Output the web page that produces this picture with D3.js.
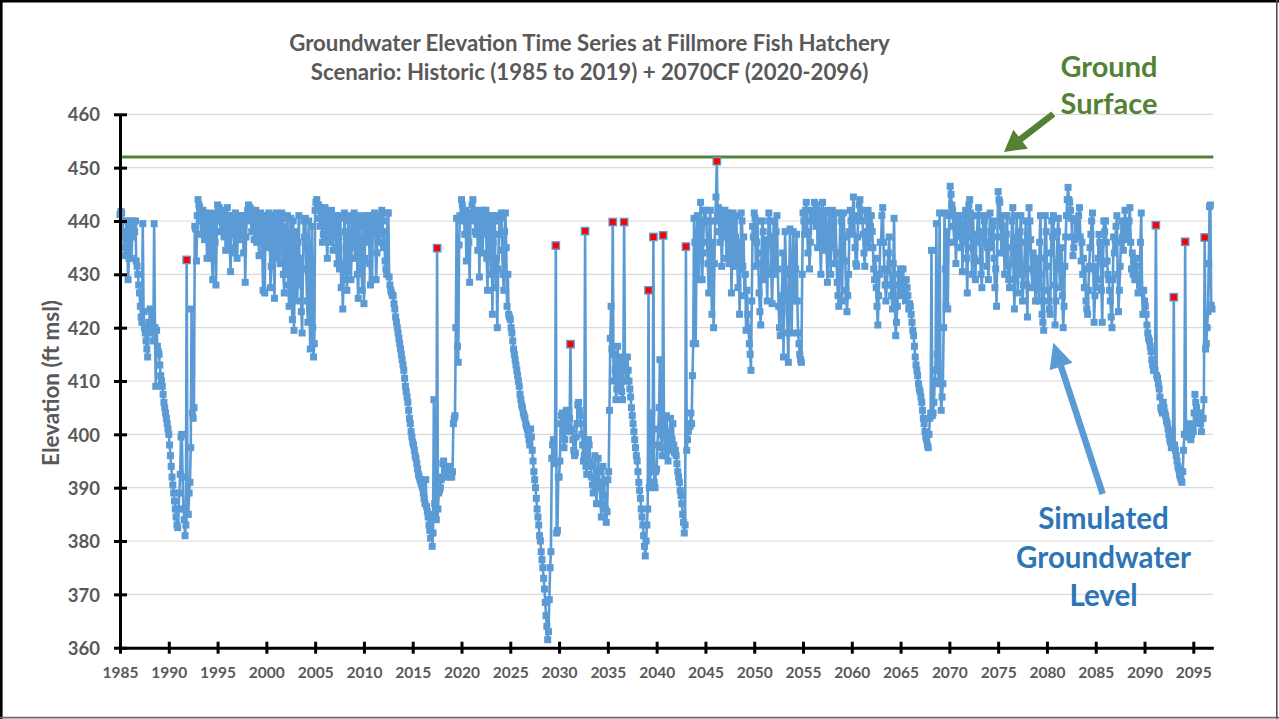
<!DOCTYPE html>
<html><head><meta charset="utf-8">
<script src="https://cdn.jsdelivr.net/npm/d3@7"></script>
<style>html,body{margin:0;padding:0;background:#fff;} svg{display:block;}</style>
</head><body><svg id="c" width="1279" height="719"></svg>
<script>
// ---------------- DATA ----------------
const startYear = 1985;
const samplesPerYear = 12; // monthly values
const levels = [
  [441.2, 441.8, 441.5, 440, 437, 435, 433.5, 438, 440, 436, 429, 433],              // 1985
  [440, 439.5, 433, 437, 440, 439.5, 438, 440, 432.5, 431.5, 430, 428],              // 1986
  [426.5, 424, 422, 421, 439.5, 423, 420, 419, 417.5, 416, 414.5, 420],              // 1987
  [421, 423.5, 423, 420.5, 419, 417.5, 439.5, 420, 409, 419.5, 416.5, 415.5],        // 1988
  [415, 413, 411, 410, 409, 407.5, 406, 405, 404, 403, 402, 401],                    // 1989
  [400, 398, 396, 394, 392, 390.5, 389, 387.5, 386, 384.5, 383, 382.5],              // 1990
  [386, 389, 392.5, 399.5, 400, 392, 386, 384, 381, 383, 432.7, 385],                // 1991
  [385, 389, 391, 397.5, 423.5, 404, 403, 405, 439, 438.5, 432.5, 441],              // 1992
  [444, 443, 442.5, 440, 437.5, 441.5, 442, 439, 436.5, 440.5, 441, 433],            // 1993
  [441.5, 437, 433.5, 440.5, 441, 433, 429, 441, 441.5, 436, 428, 438],              // 1994
  [443, 442, 442.5, 440, 438, 442, 441.5, 439, 437, 441, 434.5, 440],                // 1995
  [442.5, 436, 441, 435, 430.5, 439.5, 440, 441, 437.5, 434, 441.5, 440],            // 1996
  [433, 438, 440, 441, 436.5, 440.5, 441, 438.5, 434, 441, 428.5, 437],              // 1997
  [441, 442, 443, 441, 442.5, 440, 438, 442, 441.5, 436.5, 440.5, 442],              // 1998
  [436, 441, 440, 433.5, 437.5, 441.5, 441, 434, 427, 440.5, 426.5, 441],            // 1999
  [441, 438, 435, 441.5, 441, 427.5, 431.5, 441, 440.5, 433, 425.5, 440],            // 2000
  [441.5, 437, 433, 441, 441, 432, 437.5, 441.5, 440.5, 430, 426.5, 439],            // 2001
  [430, 440.5, 441, 428, 424, 436, 440.5, 426, 421.5, 440, 419.5, 432],              // 2002
  [438, 430, 425, 436, 441, 428, 433, 423, 419, 431, 440, 437],                      // 2003
  [440.5, 431, 425, 421, 440, 424, 416, 433, 439, 420, 414.5, 417],                  // 2004
  [442, 443.5, 444, 443, 443, 440.5, 439, 442.5, 441.5, 436, 437.5, 442],            // 2005
  [442.5, 440, 436.5, 433, 441.5, 440.5, 439, 436, 442, 441, 434.5, 440],            // 2006
  [440, 441, 435, 432, 441, 437, 431, 440.5, 427.5, 432, 423.5, 429],                // 2007
  [441.5, 438, 435, 427, 430.5, 440, 441, 433, 429, 436, 440.5, 441],                // 2008
  [441.5, 433, 435, 440.5, 430, 425.5, 441, 439, 436, 431, 427, 440],                // 2009
  [424.5, 433, 441, 440, 436, 441, 441, 432, 428, 440.5, 429, 441],                  // 2010
  [441, 441.5, 437.5, 429, 434, 440, 440.5, 436, 437.5, 441, 442, 440],              // 2011
  [435, 438, 432.5, 431, 430, 441.5, 441.5, 429.5, 428, 427, 426.5, 426],            // 2012
  [426, 424.5, 423.5, 422, 421, 420, 419, 418, 417, 416, 415, 414],                  // 2013
  [413, 412, 410.5, 409, 408, 407, 406, 404.5, 403, 402, 400.5, 399.5],              // 2014
  [398.5, 398, 397, 396, 395.5, 394.5, 393.5, 392.5, 392, 391.5, 391, 390.5],        // 2015
  [390, 389, 388, 387, 391.5, 386.5, 385.5, 384.5, 383, 382, 380.5, 385],            // 2016
  [379, 381.5, 406.5, 387, 385, 384, 434.9, 386, 389, 389.5, 390, 391.5],            // 2017
  [392, 394.5, 395, 394, 393.5, 392, 392.5, 393, 394, 393, 392, 392.5],              // 2018
  [392, 393, 402, 403, 403.5, 420, 440.5, 416.5, 413.5, 435.5, 441, 440],            // 2019
  [444, 443, 442, 441, 437.5, 442, 432.5, 441.5, 441, 436, 428.5, 440],              // 2020
  [441.5, 443, 444, 441, 442, 438, 437.5, 441.5, 434.5, 440.5, 429.5, 441],          // 2021
  [442, 438, 434, 441, 437.5, 442, 442, 433, 427, 440, 436.5, 441],                  // 2022
  [430, 441, 422.5, 436, 441, 440, 427.5, 433, 420, 431, 437.5, 441],                // 2023
  [440.5, 441.5, 434.5, 430, 427, 438, 441.5, 435, 424, 430, 422.5, 422],            // 2024
  [421.5, 420, 419, 417.5, 416, 415, 414, 413, 412, 411, 410, 409],                  // 2025
  [407.5, 406.5, 405.5, 405, 404, 403.5, 403, 402, 401.5, 401, 400, 399],            // 2026
  [398, 401, 399.5, 397, 395, 393, 391.5, 390, 388, 386, 384.5, 383],                // 2027
  [381, 380, 378, 376.5, 375, 373, 371, 368.5, 366, 364, 361.5, 363],                // 2028
  [369, 375, 378, 395.5, 398, 399, 395, 394.5, 435.4, 381.5, 382, 392],              // 2029
  [392, 395, 402, 403.5, 404, 400.5, 397.5, 399, 402.5, 404.5, 400.5, 401.5],        // 2030
  [404.5, 403, 416.9, 400.5, 401, 399, 397, 396, 396.5, 399.5, 402, 405.5],          // 2031
  [406, 404.5, 403.5, 402, 400, 398, 395, 396, 438.1, 394, 392.5, 397],              // 2032
  [399, 398, 395, 394, 392, 390.5, 389, 392, 396, 390, 387, 390],                    // 2033
  [395.5, 393, 391, 387, 384.5, 390, 394, 391, 388.5, 386, 383.5, 385.5],            // 2034
  [391.5, 393, 404.5, 418, 424, 416, 439.8, 410, 415, 412, 406.5, 408.5],            // 2035
  [416.5, 411, 409, 414.5, 413, 408, 406.5, 410, 439.8, 414, 412, 410],              // 2036
  [414.5, 412, 410, 408.5, 407, 405, 403.5, 402, 400.5, 399, 397.5, 396],            // 2037
  [395, 393, 391, 389.5, 388, 386, 384.5, 383, 381, 379, 377.2, 380],                // 2038
  [383, 386, 427, 390, 391, 394, 404, 393, 437, 391, 390, 393],                      // 2039
  [393.5, 398, 401, 405, 414, 400, 397.5, 396, 437.3, 401, 400.5, 396],              // 2040
  [403.5, 400, 395, 397.5, 400.5, 403, 397, 399, 402, 398, 396.5, 397],              // 2041
  [396, 394.5, 393, 392, 391, 389.5, 388.5, 387, 385, 383.5, 381.5, 383],            // 2042
  [435.2, 397, 399, 400.5, 402, 401.5, 404, 402, 411, 417, 440.5, 436],              // 2043
  [417, 433, 441, 434, 429, 437, 443.5, 440, 429, 434, 440, 442],                    // 2044
  [442, 440, 436, 432, 426.5, 440, 442, 430, 422.5, 436, 420, 432],                  // 2045
  [440, 444.5, 451.2, 441, 442.5, 438, 436, 441.5, 431.5, 437, 441, 442],            // 2046
  [442, 438, 433, 440, 441.5, 432, 436.5, 441, 426.5, 434, 441.5, 440],              // 2047
  [431.5, 437, 441, 433, 427.5, 436, 422.5, 431, 441.5, 440, 431.5, 437],            // 2048
  [426, 430, 419.5, 427, 422.5, 420, 417, 415, 412, 425, 439, 437],                  // 2049
  [441.5, 440.5, 431.5, 436, 440, 432, 426.5, 423, 420.5, 434, 440, 438],            // 2050
  [429, 433, 436.5, 431, 425, 436, 441.5, 440, 437, 430, 424.5, 432],                // 2051
  [440, 436, 430, 438, 441, 431, 424, 420, 418.5, 426, 423, 434],                    // 2052
  [414.5, 427, 438, 431, 425, 419, 413.5, 430, 438.5, 426, 419, 428],                // 2053
  [438, 432, 425, 431, 437.5, 425, 419, 417, 415, 414, 413.5, 430],                  // 2054
  [441.5, 440, 437.5, 442, 443.5, 440, 434, 438, 431, 436, 442, 441],                // 2055
  [440, 442, 443.5, 441, 439, 443, 435, 440, 442, 436, 430, 438],                    // 2056
  [443.5, 441, 434.5, 439, 442, 435, 428.5, 437, 441.5, 436, 430, 441],              // 2057
  [442, 440, 435, 432, 441.5, 434, 428.5, 426, 424, 434, 441.5, 440],                // 2058
  [425, 436, 441.5, 437, 432.5, 427, 423, 426, 430, 438, 442, 440],                  // 2059
  [437.5, 441, 444.5, 440, 435, 432, 431.5, 437, 441, 443, 444, 442],                // 2060
  [442, 440, 437.5, 434, 431.5, 438, 436, 441, 442, 438, 435, 439],                  // 2061
  [441, 438, 435, 431, 429, 433, 427.5, 424, 420.5, 426, 430, 436],                  // 2062
  [436, 441, 442.5, 436, 431, 428, 425, 428, 430.5, 434, 437, 432],                  // 2063
  [428, 426, 423.5, 432, 440.5, 425, 418.5, 421, 424, 430, 428, 426],                // 2064
  [431, 429, 427, 431, 428.5, 426, 425, 429, 427.5, 426, 423.5, 424.5],              // 2065
  [424, 422.5, 421, 419.5, 418.5, 416.5, 414.5, 413, 412, 411, 409.5, 408.5],        // 2066
  [408, 407, 406, 404.5, 403, 402, 400.5, 399.5, 399, 398, 397.5, 400],              // 2067
  [403, 404, 434.5, 403.5, 404, 406, 410, 412, 439.5, 415, 413, 409.5],              // 2068
  [441.5, 410, 404.5, 407, 409.5, 420, 441.5, 431, 424, 438, 423.5, 436],            // 2069
  [441, 446.5, 445, 443, 442, 439, 436, 441, 432, 437, 441, 440],                    // 2070
  [440.5, 438, 435, 441, 430.5, 436, 439, 441, 442, 433, 426.5, 437],                // 2071
  [443, 444, 441.5, 435, 430, 441, 437, 433, 429, 436, 437.5, 441],                  // 2072
  [442.5, 438, 432.5, 430, 427.5, 437, 441, 440, 436, 441, 431.5, 435],              // 2073
  [429, 436, 441.5, 438, 435, 439, 440, 433, 427.5, 431, 424, 437],                  // 2074
  [445.5, 444, 443.5, 440, 434, 439, 441, 436, 430, 434, 437.5, 441],                // 2075
  [431.5, 429, 427.5, 432, 435, 440, 442.5, 429, 423.5, 433, 437, 441],              // 2076
  [426.5, 430, 432.5, 438, 441, 431, 425, 428, 431, 436, 440, 428],                  // 2077
  [422, 435, 442.5, 440, 436.5, 431, 427.5, 434, 430.5, 428, 425, 433],              // 2078
  [431.5, 428, 425, 436, 441, 430, 422.5, 421, 419.5, 433, 441, 438],                // 2079
  [431.5, 427, 425, 423.5, 422.5, 434, 440, 437, 441, 428, 420.5, 425],              // 2080
  [432, 438, 440.5, 433, 427.5, 431, 435, 426, 420, 424, 431.5, 437],                // 2081
  [441, 444, 446.3, 444, 443.5, 442, 440.5, 437, 433.5, 435, 436.5, 440],            // 2082
  [440, 439, 437.5, 441, 442.5, 437, 432.5, 436, 430, 433, 427.5, 431],              // 2083
  [425, 423.5, 422.5, 427, 431.5, 435, 437.5, 440, 441.5, 431, 421, 426],            // 2084
  [431.5, 429, 427.5, 433, 437.5, 436, 435, 427, 421, 432, 440, 438],                // 2085
  [440, 436, 432.5, 430, 429, 427, 425, 422, 420, 429, 437, 434],                    // 2086
  [436.5, 439, 441, 430, 423, 427, 431.5, 436, 440, 437, 434.5, 439],                // 2087
  [442, 440, 436.5, 440, 437, 440, 442.5, 436, 431, 434, 430, 432],                  // 2088
  [429, 433, 431.5, 429, 426.5, 430, 428, 436, 441.5, 427, 422.5, 427],              // 2089
  [425, 424, 422.5, 420.5, 419, 418, 417.5, 416.5, 415.5, 414, 413, 412],            // 2090
  [413, 412, 439.2, 411, 410.5, 409.5, 408.5, 407, 405, 404.5, 404, 406],            // 2091
  [405, 404, 403.5, 402.5, 402, 401, 400, 399, 398.5, 397.5, 400.5, 398],            // 2092
  [425.7, 398, 397, 396, 395, 394, 393.5, 392.5, 392, 391.5, 391, 393],              // 2093
  [397, 400, 436.1, 400, 401, 400, 399.5, 402, 400.5, 399, 400, 401.5],              // 2094
  [400.5, 404, 407.5, 406, 405, 403, 402, 403.5, 404, 402, 400.5, 403],              // 2095
  [403, 406.5, 436.9, 416, 417, 420, 423, 432, 442.7, 443, 424.2, 423.5]             // 2096
];
// isolated (flagged) values drawn in red
const flaggedYears  = [1991.833, 2017.5, 2029.667, 2031.167, 2032.667, 2035.5, 2036.667, 2039.167,
                       2039.667, 2040.667, 2043.0, 2046.167, 2091.167, 2093.0, 2094.167, 2096.167];
const flaggedValues = [432.7, 434.9, 435.4, 416.9, 438.1, 439.8, 439.8, 427,
                       437, 437.3, 435.2, 451.2, 439.2, 425.7, 436.1, 436.9];
const groundSurface = 452;
const xTicks = [1985,1990,1995,2000,2005,2010,2015,2020,2025,2030,2035,2040,2045,2050,2055,2060,2065,2070,2075,2080,2085,2090,2095];
const yTicks = [360,370,380,390,400,410,420,430,440,450,460];
const xDomain = [1985, 2097.05];
const yDomain = [360, 460];
const titleLines = ["Groundwater Elevation Time Series at Fillmore Fish Hatchery",
                    "Scenario: Historic (1985 to 2019) + 2070CF (2020-2096)"];
const yLabel = "Elevation (ft msl)";
const groundLabel = ["Ground", "Surface"];
const simLabel = ["Simulated", "Groundwater", "Level"];

// ---------------- CHART ----------------
const FONT = "Lato, 'Open Sans', 'DejaVu Sans', sans-serif";
const svg = d3.select("#c");
const L = 120, R = 1213.3, T = 114.3, B = 647.7;
const x = d3.scaleLinear().domain(xDomain).range([L, R]);
const y = d3.scaleLinear().domain(yDomain).range([B, T]);

// outer frame
svg.append("rect").attr("x",0).attr("y",0).attr("width",1279).attr("height",719).attr("fill","#fff");
svg.append("line").attr("x1",0).attr("x2",1279).attr("y1",1.3).attr("y2",1.3).attr("stroke","#000").attr("stroke-width",2.6);
svg.append("line").attr("x1",1.3).attr("x2",1.3).attr("y1",0).attr("y2",719).attr("stroke","#000").attr("stroke-width",2.6);
svg.append("line").attr("x1",1276.8).attr("x2",1276.8).attr("y1",0).attr("y2",719).attr("stroke","#4d4d4d").attr("stroke-width",1.6);
svg.append("line").attr("x1",0).attr("x2",1279).attr("y1",717.6).attr("y2",717.6).attr("stroke","#6b6b6b").attr("stroke-width",1.6);

// gridlines
svg.append("g").selectAll("line").data(yTicks.filter(d => d !== yDomain[0])).join("line")
  .attr("x1", L).attr("x2", R).attr("y1", d => y(d)).attr("y2", d => y(d))
  .attr("stroke", "#d9d9d9").attr("stroke-width", 1.2);

// ground surface line
svg.append("line").attr("x1", L).attr("x2", R)
  .attr("y1", y(groundSurface)).attr("y2", y(groundSurface))
  .attr("stroke", "#548235").attr("stroke-width", 3);

// series
const points = [];
levels.forEach((row, yi) => row.forEach((v, k) => points.push({t: startYear + yi + k / samplesPerYear, v})));
const line = d3.line().x(d => x(d.t)).y(d => y(d.v));
svg.append("path").datum(points).attr("d", line)
  .attr("fill", "none").attr("stroke", "#5b9bd5").attr("stroke-width", 2.6).attr("stroke-linejoin", "round");
const MS = 7;
svg.append("g").selectAll("rect").data(points).join("rect")
  .attr("x", d => x(d.t) - MS/2).attr("y", d => y(d.v) - MS/2)
  .attr("width", MS).attr("height", MS).attr("fill", "#5b9bd5");
const flagged = flaggedYears.map((t, i) => ({t, v: flaggedValues[i]}));
svg.append("g").selectAll("rect").data(flagged).join("rect")
  .attr("x", d => x(d.t) - 3.7).attr("y", d => y(d.v) - 3.7)
  .attr("width", 7.4).attr("height", 7.4).attr("fill", "#ff0000")
  .attr("stroke", "#5b9bd5").attr("stroke-width", 1.3);

// axes
const yAxis = svg.append("g").attr("transform", `translate(${L},0)`)
  .call(d3.axisLeft(y).tickValues(yTicks).tickSizeInner(6).tickSizeOuter(0).tickPadding(14));
yAxis.select(".domain").attr("stroke", "#000").attr("stroke-width", 3);
yAxis.selectAll(".tick line").attr("x1", 7).attr("x2", -6).attr("stroke", "#000").attr("stroke-width", 3);
yAxis.selectAll(".tick text").attr("font-family", FONT).attr("font-weight", 700)
  .attr("font-size", 18.5).attr("fill", "#595959").attr("dy", "0.36em");

const xAxis = svg.append("g").attr("transform", `translate(0,${B})`)
  .call(d3.axisBottom(x).tickValues(xTicks).tickFormat(d3.format("d")).tickSizeInner(6).tickSizeOuter(0).tickPadding(13.3));
xAxis.select(".domain").attr("stroke", "#000").attr("stroke-width", 3);
xAxis.selectAll(".tick line").attr("y1", -6).attr("y2", 6).attr("stroke", "#000").attr("stroke-width", 3);
xAxis.selectAll(".tick text").attr("font-family", FONT).attr("font-weight", 700)
  .attr("font-size", 15.5).attr("fill", "#595959");

// helper to fit text width
function fit(sel, target) {
  const fs = +sel.attr("font-size");
  const w = sel.node().getComputedTextLength();
  if (w > 0) sel.attr("font-size", fs * target / w);
  return +sel.attr("font-size");
}

// title
const t1 = svg.append("text").attr("x", 589.5).attr("y", 50.7).attr("text-anchor", "middle")
  .attr("font-family", FONT).attr("font-weight", 700).attr("font-size", 19).attr("fill", "#595959")
  .text(titleLines[0]);
const tfs = fit(t1, 601);
svg.append("text").attr("x", 589.5).attr("y", 80).attr("text-anchor", "middle")
  .attr("font-family", FONT).attr("font-weight", 700).attr("font-size", tfs).attr("fill", "#595959")
  .text(titleLines[1]);

// y label
const yl = svg.append("text").attr("transform", "translate(50,383) rotate(-90)")
  .attr("text-anchor", "middle").attr("dominant-baseline", "central")
  .attr("font-family", FONT).attr("font-weight", 700).attr("font-size", 19).attr("fill", "#595959")
  .text(yLabel);
fit(yl, 166);

// arrows
function arrow(tail, tip, shaft, headLen, headHalf, color) {
  const dx = tip[0] - tail[0], dy = tip[1] - tail[1];
  const len = Math.hypot(dx, dy), ux = dx / len, uy = dy / len, nx = -uy, ny = ux;
  const bx = tip[0] - ux * headLen, by = tip[1] - uy * headLen;
  const pts = [
    [tail[0] + nx * shaft/2, tail[1] + ny * shaft/2],
    [bx + nx * shaft/2, by + ny * shaft/2],
    [bx + nx * headHalf, by + ny * headHalf],
    tip,
    [bx - nx * headHalf, by - ny * headHalf],
    [bx - nx * shaft/2, by - ny * shaft/2],
    [tail[0] - nx * shaft/2, tail[1] - ny * shaft/2]
  ];
  svg.append("polygon").attr("points", pts.map(p => p.join(",")).join(" ")).attr("fill", color);
}
arrow([1053.3, 114], [1004, 152], 6.5, 21, 12, "#548235");
arrow([1102.7, 494], [1053.3, 342.7], 6.5, 25, 12, "#5b9bd5");

// annotations
const gTexts = groundLabel.map((s, i) => svg.append("text").attr("x", 1109).attr("y", 76.7 + i * 37.3)
  .attr("text-anchor", "middle").attr("font-family", FONT).attr("font-weight", 700)
  .attr("font-size", 26).attr("fill", "#548235").text(s));
const gfs = fit(gTexts[0], 97);
gTexts.forEach(t => t.attr("font-size", gfs));
const sTexts = simLabel.map((s, i) => svg.append("text").attr("x", 1103.5).attr("y", 529.3 + i * 38.2)
  .attr("text-anchor", "middle").attr("font-family", FONT).attr("font-weight", 700)
  .attr("font-size", 26).attr("fill", "#2e75b6").text(s));
const sfs = fit(sTexts[1], 175);
sTexts.forEach(t => t.attr("font-size", sfs));
</script></body></html>
